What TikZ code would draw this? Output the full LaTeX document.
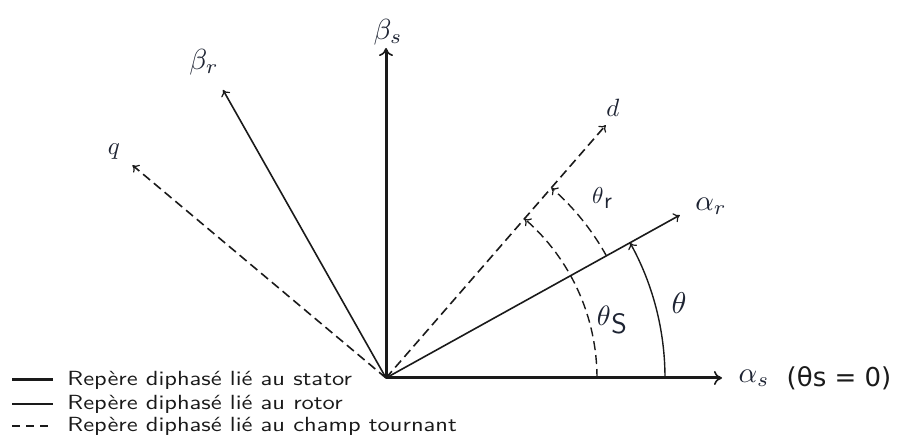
\documentclass[tikz,border=0pt]{standalone}
\usepackage{fontspec}
\newfontfamily\dejavu{DejaVu Sans}
\usetikzlibrary{arrows.meta}
\definecolor{ink}{HTML}{1A1A1A}
\definecolor{lab}{HTML}{1E2433}
\begin{document}
\begin{tikzpicture}[x=1pt,y=1pt,
  stator/.style={draw=ink,line width=3pt,-{To[length=8pt,width=14pt,line width=1.6pt]}},
  rotor/.style={draw=ink,line width=1.6pt,-{To[length=6pt,width=10pt,line width=1.2pt]}},
  field/.style={draw=ink,line width=1.6pt,dash pattern=on 9pt off 5pt,-{To[length=6pt,width=10pt,line width=1.2pt]}},
  anglearc/.style={draw=ink,line width=1.4pt,-{To[length=6pt,width=10pt,line width=1.2pt]}},
  mlab/.style={text=lab,inner sep=0pt,font=\fontsize{10}{12}\selectfont,scale=2.9,transform shape},
  slab/.style={text=lab,inner sep=0pt,font=\fontsize{10}{12}\selectfont,scale=2.5,transform shape},
  leg/.style={text=ink,inner sep=0pt,anchor=west,font=\fontsize{10}{12}\sffamily,xscale=2.45,yscale=2.05,transform shape}
]
\useasboundingbox (0,0) rectangle (906,442);
\coordinate (O) at (386,64);
% stator frame
\draw[stator] (O) -- ++(0:336) coordinate (as);
\draw[stator] (O) -- ++(90:330) coordinate (bs);
% rotor frame
\draw[rotor] (O) -- ++(29:336) coordinate (ar);
\draw[rotor] (O) -- ++(119.5:331) coordinate (br);
% rotating field frame
\draw[field] (O) -- ++(49:335) coordinate (d);
\draw[field] (O) -- ++(140:331) coordinate (q);
% angles
\draw[anglearc] ([shift={(0:279)}]O) arc[start angle=0,end angle=29,radius=279];
\draw[anglearc,dash pattern=on 9pt off 5pt] ([shift={(0:211)}]O) arc[start angle=0,end angle=49,radius=211];
\draw[anglearc,dash pattern=on 9pt off 5pt] ([shift={(29:252)}]O) arc[start angle=29,end angle=49,radius=252];
% labels
\node[mlab] (lbs) at (388,410) {$\beta_s$};
\node[mlab] (lbr) at (204,380) {$\beta_r$};
\node[slab] (lq) at (114,290) {$q$};
\node[slab] (ld) at (613,334) {$d$};
\node[mlab] (lar) at (711,236) {$\alpha_r$};
\node[text=lab,inner sep=0pt,scale=2.3,transform shape] (lthr) at (602,244) {$\theta$\kern0.2pt\raisebox{-2.5pt}{\sffamily r}};
\node[text=lab,inner sep=0pt,scale=2.8,transform shape] (lths) at (612,122) {$\theta$\kern0.2pt\raisebox{-3pt}{\sffamily S}};
\node[text=lab,inner sep=0pt,scale=3,transform shape] (lth) at (679,139) {$\theta$};
\node[mlab] (las) at (754,64) {$\alpha_s$};
\node[text=ink,inner sep=0pt,font=\fontsize{26}{30}\dejavu] (cond) at (839,64) {(θs = 0)};
% legend
\coordinate (l1a) at (12,62); \coordinate (l1b) at (53,62);
\coordinate (l2a) at (12,38); \coordinate (l2b) at (53,38);
\coordinate (l3a) at (12,16); \coordinate (l3b) at (53,16);
\draw[ink,line width=3pt] (l1a) -- (l1b);
\draw[ink,line width=1.6pt] (l2a) -- (l2b);
\draw[ink,line width=1.6pt,dash pattern=on 8pt off 6pt] (l3a) -- (l3b);
\node[leg] (t1) at (67,62) {Repère diphasé lié au stator};
\node[leg] (t2) at (67,38) {Repère diphasé lié au rotor};
\node[leg] (t3) at (67,16) {Repère diphasé lié au champ tournant};
\end{tikzpicture}
\end{document}
